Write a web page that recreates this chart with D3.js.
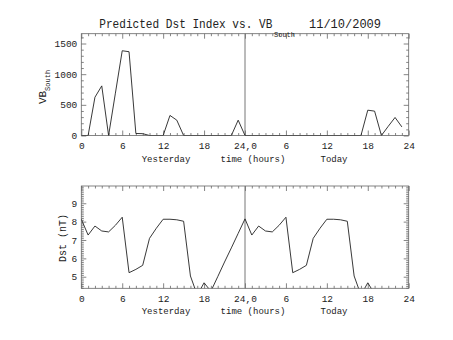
<!DOCTYPE html>
<html><head><meta charset="utf-8">
<script src="https://cdn.jsdelivr.net/npm/d3@7"></script>
<style>
body{margin:0;background:#fff;}
svg{display:block;}
text{font-family:"Liberation Mono","DejaVu Sans Mono",monospace;fill:#222;}
</style></head>
<body>
<svg id="c" width="453" height="340"></svg>
<script>
// ---- data ----
const hours = d3.range(0, 48);
const vbSouth = [0,0,624,809,0,690,1382,1366,33,30,0,0,0,327,250,0,0,0,0,0,0,0,0,250,
                 0,0,0,0,0,0,0,0,0,0,0,0,0,0,0,0,0,0,413,397,0,150,294,140];
const dstHours = d3.range(0, 44);
const dst = [8.13,7.27,7.76,7.49,7.44,7.8,8.24,5.22,5.4,5.62,7.09,7.64,8.13,8.13,8.1,8.02,5.04,4.0,4.67,4.21,5.0,5.8,6.57,7.36,
             8.15,7.27,7.76,7.49,7.44,7.8,8.24,5.22,5.4,5.62,7.09,7.64,8.13,8.13,8.1,8.02,5.04,4.0,4.67,4.07];
const xTickValues = [0,6,12,18,24,30,36,42,48];
const xTickLabels = ["0","6","12","18","24,0","6","12","18","24"];
const vbTicks = [0,500,1000,1500];
const dstTicks = [5,6,7,8,9];
const title = "Predicted Dst Index vs. VB";
const dateLabel = "11/10/2009";

const svg = d3.select("#c");
const L = 81.3, R = 408.7;
const x = d3.scaleLinear().domain([0,48]).range([L,R]);
const frameCol = "#666", lineCol = "#222";

function panel(top, bottom, y, majors, minorStep, vals, hrs, clipId){
  const g = svg.append("g");
  svg.append("clipPath").attr("id", clipId).append("rect")
    .attr("x", L).attr("y", top).attr("width", R-L).attr("height", bottom-top);
  g.append("rect").attr("x", L).attr("y", top).attr("width", R-L).attr("height", bottom-top)
    .attr("fill","none").attr("stroke", frameCol).attr("stroke-width",0.8);
  const dom = y.domain();
  const minors = d3.range(Math.ceil(dom[0]/minorStep)*minorStep, dom[1], minorStep)
    .filter(v => !majors.some(m => Math.abs(m-v) < 1e-6));
  g.append("g").attr("transform",`translate(${L},0)`)
    .call(d3.axisLeft(y).tickValues(majors).tickSize(-5).tickPadding(4).tickFormat(d3.format("d")));
  g.append("g").attr("transform",`translate(${L},0)`)
    .call(d3.axisLeft(y).tickValues(minors).tickSize(-2.5).tickFormat(""));
  g.append("g").attr("transform",`translate(${R},0)`)
    .call(d3.axisRight(y).tickValues(majors).tickSize(-5).tickFormat(""));
  g.append("g").attr("transform",`translate(${R},0)`)
    .call(d3.axisRight(y).tickValues(minors).tickSize(-2.5).tickFormat(""));
  const xMinor = d3.range(1,48).filter(h => h % 6 !== 0);
  g.append("g").attr("transform",`translate(0,${bottom})`)
    .call(d3.axisBottom(x).tickValues(xTickValues).tickSize(-5).tickPadding(7)
      .tickFormat((d,i) => xTickLabels[i]));
  g.append("g").attr("transform",`translate(0,${bottom})`)
    .call(d3.axisBottom(x).tickValues(xMinor).tickSize(-2.5).tickFormat(""));
  g.append("g").attr("transform",`translate(0,${top})`)
    .call(d3.axisTop(x).tickValues(xTickValues).tickSize(-5).tickFormat(""));
  g.append("g").attr("transform",`translate(0,${top})`)
    .call(d3.axisTop(x).tickValues(xMinor).tickSize(-2.5).tickFormat(""));
  g.selectAll(".domain").remove();
  g.selectAll(".tick line").attr("stroke", frameCol).attr("stroke-width",0.8);
  g.selectAll(".tick text").style("font-size","9.5px").attr("fill","#222");
  g.append("line").attr("x1",x(24)).attr("x2",x(24)).attr("y1",top).attr("y2",bottom)
    .attr("stroke","#777").attr("stroke-width",1);
  const line = d3.line().x((d,i)=>x(hrs[i])).y(d=>y(d));
  g.append("path").datum(vals).attr("d", line).attr("fill","none")
    .attr("stroke", lineCol).attr("stroke-width",0.9).attr("clip-path",`url(#${clipId})`);
  const lblY = bottom + 26;
  g.append("text").attr("x",166).attr("y",lblY).attr("text-anchor","middle").style("font-size","9px").text("Yesterday");
  g.append("text").attr("x",253).attr("y",lblY).attr("text-anchor","middle").style("font-size","9px").text("time (hours)");
  g.append("text").attr("x",334).attr("y",lblY).attr("text-anchor","middle").style("font-size","9px").text("Today");
  return g;
}

// top panel
const yTop = d3.scaleLinear().domain([0,1660]).range([135.5,33.7]);
const g1 = panel(33.7, 135.5, yTop, vbTicks, 100, vbSouth, hours, "clip1");
const t1 = g1.append("text").attr("transform","translate(46,87) rotate(-90)")
  .attr("text-anchor","middle").style("font-size","11px");
t1.append("tspan").text("VB");
t1.append("tspan").attr("dy",4).style("font-size","7px").text("South");

// bottom panel
const yBot = d3.scaleLinear().domain([4.37,9.94]).range([288.3,186]);
const g2 = panel(186, 288.3, yBot, dstTicks, 0.1, dst, dstHours, "clip2");
g2.append("text").attr("transform","translate(66,238) rotate(-90)")
  .attr("text-anchor","middle").style("font-size","10px").text("Dst (nT)");

// title
svg.append("text").attr("x",99.3).attr("y",27.5).style("font-size","12px")
  .attr("textLength",173).attr("lengthAdjust","spacingAndGlyphs").text(title);
svg.append("text").attr("x",274).attr("y",37).style("font-size","7px").text("South");
svg.append("text").attr("x",309).attr("y",27.5).style("font-size","12px").text(dateLabel);
</script>
</body></html>
